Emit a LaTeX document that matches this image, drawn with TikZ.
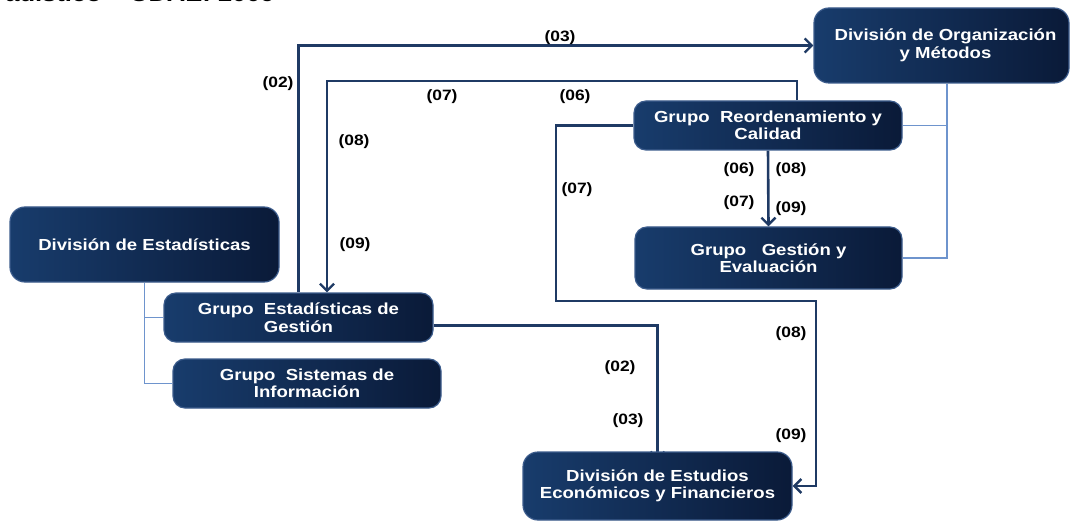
\documentclass[tikz,border=0pt]{standalone}
\usepackage{fontspec}
\setmainfont{Liberation Sans}[FakeStretch=1.16]
\usetikzlibrary{arrows.meta,backgrounds}
\definecolor{conn}{RGB}{31,58,100}
\definecolor{thinc}{RGB}{110,148,205}
\definecolor{boxl}{RGB}{24,60,108}
\definecolor{boxr}{RGB}{10,26,56}
\definecolor{boxe}{RGB}{60,92,140}
\tikzset{
  box/.style={rounded corners=12pt, left color=boxl, right color=boxr, draw=boxe, line width=1.2pt,
    inner sep=0pt, text=white, align=center, font=\bfseries\fontsize{16}{17.5}\selectfont},
  conline/.style={draw=conn, line width=2.6pt},
  arr/.style={-{Straight Barb[length=7pt,width=14pt,line width=2.4pt]}},
  orgline/.style={draw=thinc, line width=1.1pt},
  lab/.style={font=\bfseries\fontsize{15}{16}\selectfont, text=black, inner sep=0pt}
}
\begin{document}
\begin{tikzpicture}[x=1pt,y=-1pt]
\useasboundingbox (0,0) rectangle (1070,521);
% partial title at the top edge
\node[font=\bfseries\fontsize{22}{24}\selectfont, anchor=base east, inner sep=0pt] (title) at (275,1.5) {adístico – UDAE: 2009};
% boxes
\node[box, rounded corners=15pt, minimum width=255pt, minimum height=75pt] (orgm) at (941.5,45.5) {\hspace*{8pt}División de Organización\\\hspace*{8pt}y Métodos};
\node[box, minimum width=268pt, minimum height=49pt] (reord) at (768,125.5) {Grupo~~Reordenamiento y\\Calidad};
\node[box, minimum width=267pt, minimum height=62pt] (gestev) at (768.5,258) {Grupo~~~Gestión y\\Evaluación};
\node[box, rounded corners=15pt, minimum width=269pt, minimum height=75pt] (divest) at (144.5,244.5) {División de Estadísticas};
\node[box, minimum width=269pt, minimum height=49pt] (gestest) at (298.5,317.5) {Grupo~~Estadísticas de\\Gestión};
\node[box, minimum width=268pt, minimum height=49pt] (sisinf) at (307,383.5) {Grupo~~Sistemas de\\Información};
\node[box, rounded corners=15pt, minimum width=269pt, minimum height=68pt] (divestud) at (657.5,486) {División de Estudios\\Económicos y Financieros};
% coordinates
\coordinate (c7) at (327,81);
\coordinate (c6a) at (556,301);
\coordinate (c6b) at (816,301);
\coordinate (orgx) at ([xshift=5.5pt]orgm.south);
\begin{scope}[on background layer]
% org chart thin lines
\draw[orgline] (orgx) |- (gestev.east);
\draw[orgline] (reord.east) -- (reord.east -| orgx);
\draw[orgline] (divest.south) |- (sisinf.west);
\draw[orgline] (gestest.west) -- (gestest.west -| divest.south);
% flow connectors
\draw[conline, arr] (gestest.north) |- (orgm.west);
\draw[conline, arr] ([xshift=29pt]reord.north) |- (c7) -- (c7 |- gestest.north);
\draw[conline, arr] (reord.west) -| (c6a) -- (c6b) |- (divestud.east);
\draw[conline, arr] (reord.south) -- (gestev.north);
\draw[conline, arr, shorten >=-9pt] ([yshift=-8pt]gestest.east) -| (divestud.north);
\end{scope}
% labels
\node[lab] (l03a) at (560,38) {(03)};
\node[lab] (l02a) at (278,84) {(02)};
\node[lab] (l07a) at (442,97) {(07)};
\node[lab] (l06a) at (575,97) {(06)};
\node[lab] (l08a) at (354,142) {(08)};
\node[lab] (l09a) at (355,245) {(09)};
\node[lab] (l07b) at (577,190) {(07)};
\node[lab] (l06b) at (739,170) {(06)};
\node[lab] (l08b) at (791,170) {(08)};
\node[lab] (l07c) at (739,203) {(07)};
\node[lab] (l09b) at (791,209) {(09)};
\node[lab] (l08c) at (791,334) {(08)};
\node[lab] (l02b) at (620,368) {(02)};
\node[lab] (l03b) at (628,421) {(03)};
\node[lab] (l09c) at (791,436) {(09)};
\end{tikzpicture}
\end{document}
